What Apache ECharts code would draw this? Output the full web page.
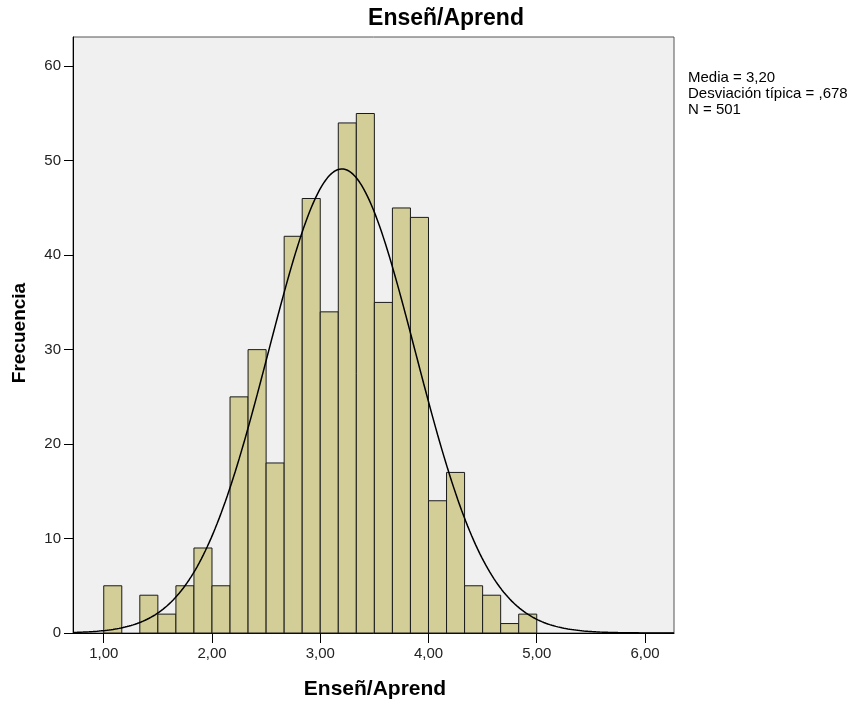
<!DOCTYPE html>
<html>
<head>
<meta charset="utf-8">
<script src="https://cdn.jsdelivr.net/npm/echarts@6/dist/echarts.min.js"></script>
<style>
html,body{margin:0;padding:0;background:#fff;}
#chart{width:856px;height:704px;}
</style>
</head>
<body>
<div id="chart"></div>
<script>
// ---- data ----
var chartTitle = 'Enseñ/Aprend';
var xAxisName = 'Enseñ/Aprend';
var yAxisName = 'Frecuencia';
var binStart = 1.0;
var binWidth = 1 / 6;
var counts = [5, 0, 4, 2, 5, 9, 5, 25, 30, 18, 42, 46, 34, 54, 55, 35, 45, 44, 14, 17, 5, 4, 1, 2];
var xTicks = [1, 2, 3, 4, 5, 6];
var yTicks = [0, 10, 20, 30, 40, 50, 60];
var statMean = 3.20;
var statSd = 0.678;
var statN = 501;
var statLines = ['Media = 3,20', 'Desviación típica = ,678', 'N = 501'];

// ---- build ----
var xMin = 0.716, xMax = 6.268, yMax = 63.1;
var histData = counts.map(function (c, i) {
  var s = binStart + i * binWidth;
  return [s, s + binWidth, c];
}).filter(function (d) { return d[2] > 0; });

var curve = [];
var steps = 300;
for (var k = 0; k <= steps; k++) {
  var x = xMin + (xMax - xMin) * k / steps;
  var z = (x - statMean) / statSd;
  var y = statN * binWidth * Math.exp(-0.5 * z * z) / (statSd * Math.sqrt(2 * Math.PI));
  curve.push([x, y]);
}

var FONT = '"Liberation Sans", Arial, sans-serif';
var chart = echarts.init(document.getElementById('chart'), null, {renderer: 'canvas'});
var fmt = function (v) { return v.toFixed(2).replace('.', ','); };

chart.setOption({
  animation: false,
  backgroundColor: '#ffffff',
  grid: {
    left: 73, right: 182, top: 37, bottom: 71,
    show: true, backgroundColor: '#F0F0F0', borderColor: '#555555', borderWidth: 1
  },
  xAxis: {
    type: 'value', min: xMin, max: xMax,
    axisLine: {show: true, onZero: false, lineStyle: {color: '#000', width: 1}},
    axisTick: {show: true, customValues: xTicks, length: 10, lineStyle: {color: '#000'}},
    axisLabel: {customValues: xTicks, formatter: fmt, margin: 13, fontSize: 15, color: '#222', fontFamily: FONT},
    splitLine: {show: false}
  },
  yAxis: {
    type: 'value', min: 0, max: yMax,
    axisLine: {show: true, lineStyle: {color: '#000', width: 1}},
    axisTick: {show: true, customValues: yTicks, length: 9, lineStyle: {color: '#000'}},
    axisLabel: {customValues: yTicks, margin: 12, fontSize: 15, color: '#222', fontFamily: FONT},
    splitLine: {show: false}
  },
  series: [
    {
      type: 'custom',
      data: histData,
      encode: {x: [0, 1], y: 2},
      renderItem: function (params, api) {
        var p0 = api.coord([api.value(0), api.value(2)]);
        var p1 = api.coord([api.value(1), 0]);
        return {
          type: 'rect',
          shape: {x: p0[0], y: p0[1], width: p1[0] - p0[0], height: p1[1] - p0[1]},
          style: {fill: '#D3CE97', stroke: '#1a1a1a', lineWidth: 1}
        };
      },
      z: 2
    },
    {
      type: 'line',
      data: curve,
      showSymbol: false,
      smooth: false,
      lineStyle: {color: '#000', width: 1.5},
      z: 3
    }
  ],
  graphic: [
    {type: 'text', x: 446, y: 18.5, style: {text: chartTitle, textAlign: 'center', textVerticalAlign: 'middle', font: 'bold 23px ' + FONT, fill: '#000'}},
    {type: 'text', x: 375, y: 689, style: {text: xAxisName, textAlign: 'center', textVerticalAlign: 'middle', font: 'bold 21px ' + FONT, fill: '#000'}},
    {type: 'text', x: 20, y: 333, rotation: Math.PI / 2, style: {text: yAxisName, textAlign: 'center', textVerticalAlign: 'middle', font: 'bold 19px ' + FONT, fill: '#000'}},
    {type: 'text', x: 688, y: 77.7, style: {text: statLines[0], textVerticalAlign: 'middle', font: '15px ' + FONT, fill: '#000'}},
    {type: 'text', x: 688, y: 94, style: {text: statLines[1], textVerticalAlign: 'middle', font: '15px ' + FONT, fill: '#000'}},
    {type: 'text', x: 688, y: 110.3, style: {text: statLines[2], textVerticalAlign: 'middle', font: '15px ' + FONT, fill: '#000'}}
  ]
});
</script>
</body>
</html>
